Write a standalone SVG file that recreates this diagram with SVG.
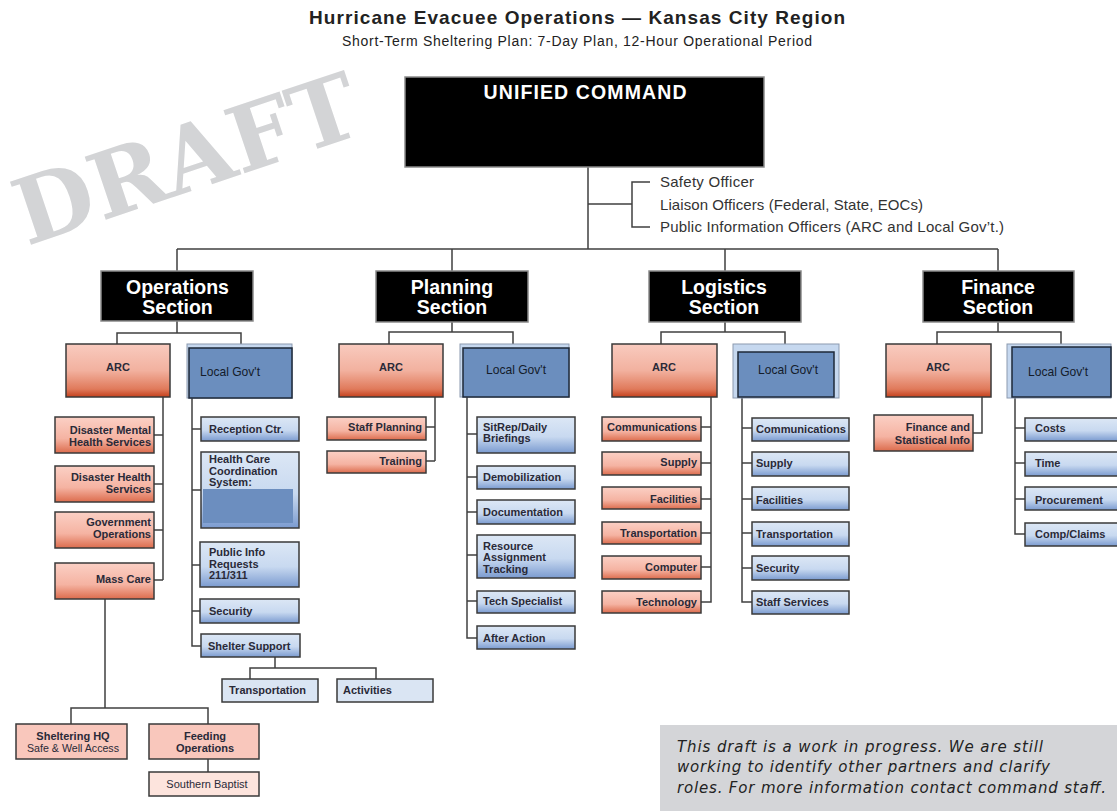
<svg xmlns="http://www.w3.org/2000/svg" width="1117" height="811" viewBox="0 0 1117 811">
<style>
.sec{fill:#000;stroke:#8a8a8a;stroke-width:1.5}
.sect{font-family:'Liberation Sans',Arial,sans-serif;font-weight:bold;font-size:19.5px;fill:#fff;text-anchor:middle}
.arc{fill:url(#gArc);stroke:#3a3a3a;stroke-width:1.5}
.lgo{fill:#c6d8ef;stroke:#8b9ab0;stroke-width:1}
.lgi{fill:#6b8ebe;stroke:#1e2838;stroke-width:1.5}
.rc{fill:url(#gRed);stroke:#3a3a3a;stroke-width:1.5}
.bc{fill:url(#gBlue);stroke:#3a3a3a;stroke-width:1.5}
.pk{fill:#f9c7bc;stroke:#3a3a3a;stroke-width:1.5}
.pk2{fill:#fde4dd;stroke:#3a3a3a;stroke-width:1.5}
.lb{fill:#dae5f3;stroke:#3a3a3a;stroke-width:1.5}
.t{font-family:'Liberation Sans',Arial,sans-serif;font-weight:bold;font-size:11px;fill:#2a2a38}
.r{font-family:'Liberation Sans',Arial,sans-serif;font-size:11px;fill:#2a2a38}
.e{text-anchor:end}
.m{text-anchor:middle}
.lg{font-family:'Liberation Sans',Arial,sans-serif;font-size:13px;fill:#141c2a}
.off{font-family:'Liberation Sans',Arial,sans-serif;font-size:15px;fill:#333}
.ln{fill:none;stroke:#404040;stroke-width:1.5}
</style>
<defs>
<linearGradient id="gArc" x1="0" y1="0" x2="0" y2="1">
<stop offset="0" stop-color="#f9cbbf"/><stop offset="0.5" stop-color="#f2b19f"/><stop offset="0.85" stop-color="#e07a5b"/><stop offset="1" stop-color="#c4401c"/>
</linearGradient>
<linearGradient id="gRed" x1="0" y1="0" x2="0" y2="1">
<stop offset="0" stop-color="#fbd0c5"/><stop offset="0.6" stop-color="#f5b3a2"/><stop offset="1" stop-color="#dc6c4d"/>
</linearGradient>
<linearGradient id="gBlue" x1="0" y1="0" x2="0" y2="1">
<stop offset="0" stop-color="#dce7f5"/><stop offset="0.55" stop-color="#c8d9f0"/><stop offset="1" stop-color="#7b9bd0"/>
</linearGradient>
</defs>
<rect width="1117" height="811" fill="#fff"/>
<text x="27" y="246" transform="rotate(-18.5 27 246)" font-family="'DejaVu Serif',serif" font-weight="bold" font-size="91" fill="#d3d4d6">DRAFT</text>
<text x="577" y="24" text-anchor="middle" font-family="'Liberation Sans',Arial,sans-serif" font-weight="bold" font-size="19" fill="#222" textLength="536">Hurricane Evacuee Operations — Kansas City Region</text>
<text x="577" y="46" text-anchor="middle" font-family="'Liberation Sans',Arial,sans-serif" font-size="14" fill="#222" textLength="470">Short-Term Sheltering Plan: 7-Day Plan, 12-Hour Operational Period</text>

<g id="connectors">
<path class="ln" d="M588 167V249M588 204H632M650 182H632V227H650"/>
<path class="ln" d="M177 249H998M177 249V271M452 249V271M725 249V271M998 249V271" stroke-width="2"/>
<path class="ln" d="M177 321V333M117 344V333H241V344M163 397V580M154 435H163M154 484H163M154 530H163M154 580H163"/>
<path class="ln" d="M192 398V646H201M192 429H201M192 490H201M192 565H200M192 611H200"/>
<path class="ln" d="M275 657V668M250 679V668H376V679M105 599V708M71 724V708H208V724M208 759V772"/>
<path class="ln" d="M452 322V332M389 344V332H513V344M435 397V461M426 427H435M426 461H435"/>
<path class="ln" d="M467 397V638H477M467 434H477M467 477H477M467 512H477M467 555H477M467 601H477"/>
<path class="ln" d="M725 322V332M661 344V332H785V344M711 397V602H701M701 427H711M701 463H711M701 499H711M701 533H711M701 567H711"/>
<path class="ln" d="M742 398V602H752M742 428H752M742 463H752M742 499H752M742 533H752M742 568H752"/>
<path class="ln" d="M998 322V332M937 344V332H1061V344M982 397V433H973M1015 397V534H1025M1015 428H1025M1015 463H1025M1015 499H1025"/>
</g>

<g id="unified-command">
<rect x="405" y="77" width="359" height="90" class="sec"/>
<text x="585" y="99" font-family="'Liberation Sans',Arial,sans-serif" font-weight="bold" font-size="19.5" fill="#fff" text-anchor="middle" textLength="203">UNIFIED COMMAND</text>
</g>
<g id="officers">
<text class="off" x="660" y="187" textLength="94">Safety Officer</text>
<text class="off" x="660" y="210" textLength="263">Liaison Officers (Federal, State, EOCs)</text>
<text class="off" x="660" y="232" textLength="344">Public Information Officers (ARC and Local Gov’t.)</text>
</g>

<g id="operations-section"><rect x="101" y="271" width="152" height="50" class="sec"/><text class="sect" x="177.5" y="294">Operations</text><text class="sect" x="177.5" y="314">Section</text></g>
<g id="ops-arc"><rect x="66" y="344" width="104" height="53" class="arc"/><text class="t m" x="118" y="371">ARC</text></g>
<g id="ops-localgov"><rect x="187" y="344" width="105" height="54" class="lgo"/><rect x="189" y="348" width="103" height="50" class="lgi"/><text class="lg" x="200" y="376" textLength="60" lengthAdjust="spacingAndGlyphs">Local Gov't</text></g>
<g id="ops-dmhs"><rect x="55" y="417" width="99" height="36" class="rc"/><text class="t e" x="151" y="434">Disaster Mental</text><text class="t e" x="151" y="446">Health Services</text></g>
<g id="ops-dhs"><rect x="55" y="466" width="99" height="36" class="rc"/><text class="t e" x="151" y="481">Disaster Health</text><text class="t e" x="151" y="493">Services</text></g>
<g id="ops-govops"><rect x="55" y="512" width="99" height="36" class="rc"/><text class="t e" x="151" y="526">Government</text><text class="t e" x="151" y="538">Operations</text></g>
<g id="ops-masscare"><rect x="55" y="563" width="99" height="36" class="rc"/><text class="t e" x="151" y="583">Mass Care</text></g>
<g id="ops-reception"><rect x="201" y="417" width="98" height="24" class="bc"/><text class="t" x="209" y="433">Reception Ctr.</text></g>
<g id="ops-healthcare"><rect x="201" y="452" width="98" height="76" class="bc"/><text class="t" x="209" y="463">Health Care</text><text class="t" x="209" y="475">Coordination</text><text class="t" x="209" y="486">System:</text><rect x="203" y="489" width="90" height="34" fill="#6c8ebf"/></g>
<g id="ops-publicinfo"><rect x="200" y="542" width="99" height="45" class="bc"/><text class="t" x="209" y="556">Public Info</text><text class="t" x="209" y="568">Requests</text><text class="t" x="209" y="579">211/311</text></g>
<g id="ops-security"><rect x="200" y="599" width="99" height="24" class="bc"/><text class="t" x="209" y="615">Security</text></g>
<g id="ops-shelter"><rect x="201" y="634" width="99" height="23" class="bc"/><text class="t" x="208" y="650">Shelter Support</text></g>
<g id="ops-transport"><rect x="222" y="679" width="96" height="23" class="lb"/><text class="t" x="229" y="694">Transportation</text></g>
<g id="ops-activities"><rect x="337" y="679" width="96" height="23" class="lb"/><text class="t" x="343" y="694">Activities</text></g>
<g id="ops-shelteringhq"><rect x="16" y="724" width="111" height="35" class="pk"/><text class="t m" x="73" y="740">Sheltering HQ</text><text class="r m" x="73" y="752" textLength="92" lengthAdjust="spacingAndGlyphs">Safe &amp; Well Access</text></g>
<g id="ops-feeding"><rect x="149" y="724" width="110" height="35" class="pk"/><text class="t m" x="205" y="740">Feeding</text><text class="t m" x="205" y="752">Operations</text></g>
<g id="ops-southernbaptist"><rect x="149" y="772" width="110" height="24" class="pk2"/><text class="r m" x="207" y="788">Southern Baptist</text></g>

<g id="planning-section"><rect x="376" y="271" width="152" height="51" class="sec"/><text class="sect" x="452" y="294">Planning</text><text class="sect" x="452" y="314">Section</text></g>
<g id="plan-arc"><rect x="339" y="344" width="104" height="53" class="arc"/><text class="t m" x="391" y="371">ARC</text></g>
<g id="plan-localgov"><rect x="460" y="344" width="109" height="53" class="lgo"/><rect x="463" y="348" width="106" height="49" class="lgi"/><text class="lg" x="486" y="374" textLength="60" lengthAdjust="spacingAndGlyphs">Local Gov't</text></g>
<g id="plan-staff"><rect x="327" y="417" width="99" height="23" class="rc"/><text class="t e" x="422" y="431">Staff Planning</text></g>
<g id="plan-training"><rect x="327" y="451" width="99" height="22" class="rc"/><text class="t e" x="422" y="465">Training</text></g>
<g id="plan-sitrep"><rect x="477" y="417" width="98" height="36" class="bc"/><text class="t" x="483" y="431">SitRep/Daily</text><text class="t" x="483" y="442">Briefings</text></g>
<g id="plan-demob"><rect x="477" y="466" width="98" height="23" class="bc"/><text class="t" x="483" y="481">Demobilization</text></g>
<g id="plan-doc"><rect x="477" y="500" width="98" height="24" class="bc"/><text class="t" x="483" y="516">Documentation</text></g>
<g id="plan-resource"><rect x="477" y="535" width="98" height="43" class="bc"/><text class="t" x="483" y="550">Resource</text><text class="t" x="483" y="561">Assignment</text><text class="t" x="483" y="573">Tracking</text></g>
<g id="plan-tech"><rect x="477" y="591" width="98" height="22" class="bc"/><text class="t" x="483" y="605">Tech Specialist</text></g>
<g id="plan-after"><rect x="477" y="626" width="98" height="23" class="bc"/><text class="t" x="483" y="642">After Action</text></g>

<g id="logistics-section"><rect x="649" y="271" width="152" height="51" class="sec"/><text class="sect" x="724" y="294">Logistics</text><text class="sect" x="724" y="314">Section</text></g>
<g id="log-arc"><rect x="612" y="344" width="105" height="53" class="arc"/><text class="t m" x="664" y="371">ARC</text></g>
<g id="log-localgov"><rect x="733" y="344" width="106" height="54" class="lgo"/><rect x="738" y="352" width="96" height="45" class="lgi"/><text class="lg" x="758" y="374" textLength="60" lengthAdjust="spacingAndGlyphs">Local Gov't</text></g>
<g id="log-arc-comm"><rect x="602" y="417" width="99" height="24" class="rc"/><text class="t e" x="697" y="431" textLength="90" lengthAdjust="spacingAndGlyphs">Communications</text></g>
<g id="log-arc-supply"><rect x="602" y="452" width="99" height="23" class="rc"/><text class="t e" x="697" y="466">Supply</text></g>
<g id="log-arc-fac"><rect x="602" y="487" width="99" height="22" class="rc"/><text class="t e" x="697" y="503">Facilities</text></g>
<g id="log-arc-trans"><rect x="602" y="522" width="99" height="22" class="rc"/><text class="t e" x="697" y="537">Transportation</text></g>
<g id="log-arc-comp"><rect x="602" y="556" width="99" height="23" class="rc"/><text class="t e" x="697" y="571">Computer</text></g>
<g id="log-arc-tech"><rect x="602" y="591" width="99" height="22" class="rc"/><text class="t e" x="697" y="606">Technology</text></g>
<g id="log-lg-comm"><rect x="752" y="418" width="97" height="23" class="bc"/><text class="t" x="756" y="433" textLength="90" lengthAdjust="spacingAndGlyphs">Communications</text></g>
<g id="log-lg-supply"><rect x="752" y="452" width="97" height="24" class="bc"/><text class="t" x="756" y="467">Supply</text></g>
<g id="log-lg-fac"><rect x="752" y="487" width="97" height="23" class="bc"/><text class="t" x="756" y="504">Facilities</text></g>
<g id="log-lg-trans"><rect x="752" y="522" width="97" height="24" class="bc"/><text class="t" x="756" y="538">Transportation</text></g>
<g id="log-lg-sec"><rect x="752" y="556" width="97" height="24" class="bc"/><text class="t" x="756" y="572">Security</text></g>
<g id="log-lg-staff"><rect x="752" y="591" width="97" height="23" class="bc"/><text class="t" x="756" y="606">Staff Services</text></g>

<g id="finance-section"><rect x="923" y="271" width="151" height="51" class="sec"/><text class="sect" x="998" y="294">Finance</text><text class="sect" x="998" y="314">Section</text></g>
<g id="fin-arc"><rect x="886" y="344" width="105" height="53" class="arc"/><text class="t m" x="938" y="371">ARC</text></g>
<g id="fin-localgov"><rect x="1007" y="344" width="104" height="54" class="lgo"/><rect x="1012" y="347" width="99" height="50" class="lgi"/><text class="lg" x="1028" y="376" textLength="60" lengthAdjust="spacingAndGlyphs">Local Gov't</text></g>
<g id="fin-arc-fsi"><rect x="874" y="415" width="99" height="36" class="rc"/><text class="t e" x="970" y="431">Finance and</text><text class="t e" x="970" y="444">Statistical Info</text></g>
<g id="fin-costs"><rect x="1025" y="418" width="100" height="23" class="bc"/><text class="t" x="1035" y="432">Costs</text></g>
<g id="fin-time"><rect x="1025" y="452" width="100" height="24" class="bc"/><text class="t" x="1035" y="467">Time</text></g>
<g id="fin-proc"><rect x="1025" y="487" width="100" height="23" class="bc"/><text class="t" x="1035" y="504">Procurement</text></g>
<g id="fin-comp"><rect x="1025" y="523" width="100" height="23" class="bc"/><text class="t" x="1035" y="538">Comp/Claims</text></g>

<g id="note">
<rect x="660" y="725" width="460" height="90" fill="#d4d5d8"/>
<g font-family="'DejaVu Sans',Verdana,sans-serif" font-style="italic" font-size="15" fill="#222">
<text x="677" y="752" textLength="366">This draft is a work in progress. We are still</text>
<text x="677" y="772" textLength="373">working to identify other partners and clarify</text>
<text x="677" y="793" textLength="429">roles. For more information contact command staff.</text>
</g>
</g>
</svg>
